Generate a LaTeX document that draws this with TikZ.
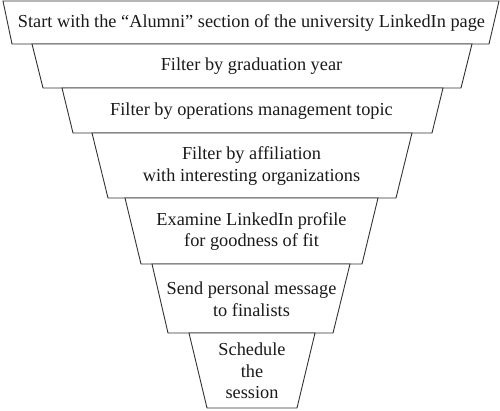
\documentclass[tikz,border=0pt]{standalone}
\usepackage{fontspec}
\setmainfont{Liberation Serif}
\definecolor{edge}{HTML}{333333}
\definecolor{ink}{HTML}{1A1A1A}
\begin{document}
\begin{tikzpicture}[x=1pt,y=-1pt,
  tier/.style={draw=edge,line width=0.9pt,line join=miter,fill=white},
  label/.style={text=ink,align=center,inner sep=0pt,font=\fontsize{18.3}{21.5}\selectfont}]
\useasboundingbox (0,0) rectangle (500,410);
% tiers
\draw[tier] (3,1) -- (499,1) -- (489,44) -- (12,44) -- cycle;
\draw[tier] (32,44) -- (472,44) -- (461,88) -- (43,88) -- cycle;
\draw[tier] (62,88) -- (443,88) -- (432,133) -- (73,133) -- cycle;
\draw[tier] (92,133) -- (412,133) -- (396,198) -- (108,198) -- cycle;
\draw[tier] (125,198) -- (378,198) -- (362,264) -- (141,264) -- cycle;
\draw[tier] (152,264) -- (350,264) -- (333,333) -- (168,333) -- cycle;
\draw[tier] (189,333) -- (315,333) -- (297,408) -- (207,408) -- cycle;
% labels
\node[label] (t1) at (251.5,23) {Start with the “Alumni” section of the university LinkedIn page};
\node[label] (t2) at (251.5,66.5) {Filter by graduation year};
\node[label] (t3) at (251.5,111) {Filter by operations management topic};
\node[label] (t4) at (251.5,166) {Filter by affiliation\\with interesting organizations};
\node[label] (t5) at (251.5,231.5) {Examine LinkedIn profile\\for goodness of fit};
\node[label] (t6) at (251.5,299) {Send personal message\\to finalists};
\node[label] (t7) at (252,371) {Schedule\\the\\session};
\end{tikzpicture}
\end{document}
